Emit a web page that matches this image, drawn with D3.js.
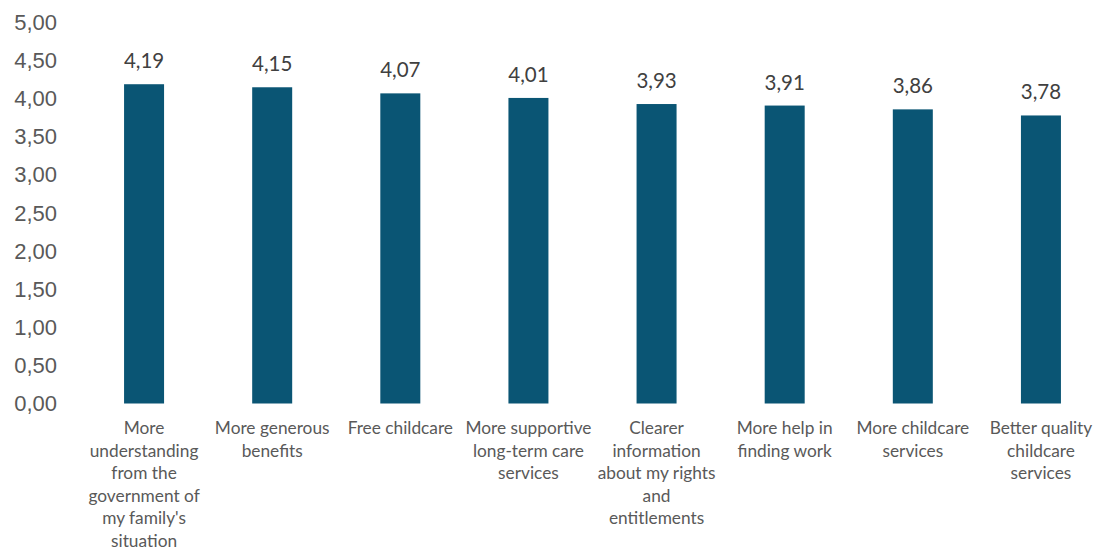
<!DOCTYPE html>
<html>
<head>
<meta charset="utf-8">
<script src="https://cdn.jsdelivr.net/npm/d3@7"></script>
<style>
  html, body { margin: 0; padding: 0; background: #ffffff; }
  svg { display: block; }
</style>
</head>
<body>
<svg id="chart" width="1098" height="550"></svg>
<script>
// ---- Data ----
const categories = [
  "More understanding from the government of my family's situation",
  "More generous benefits",
  "Free childcare",
  "More supportive long-term care services",
  "Clearer information about my rights and entitlements",
  "More help in finding work",
  "More childcare services",
  "Better quality childcare services"
];
const values = [4.19, 4.15, 4.07, 4.01, 3.93, 3.91, 3.86, 3.78];
const categoryLabelLines = [
  ["More", "understanding", "from the", "government of", "my family's", "situation"],
  ["More generous", "benefits"],
  ["Free childcare"],
  ["More supportive", "long-term care", "services"],
  ["Clearer", "information", "about my rights", "and", "entitlements"],
  ["More help in", "finding work"],
  ["More childcare", "services"],
  ["Better quality", "childcare", "services"]
];
const yTicks = [0, 0.5, 1, 1.5, 2, 2.5, 3, 3.5, 4, 4.5, 5];

// ---- Chart ----
const svg = d3.select("#chart");
const fmt = v => d3.format(".2f")(v).replace(".", ",");

const x = d3.scaleBand()
  .domain(categories)
  .range([80, 1105])
  .padding(0);

const y = d3.scaleLinear()
  .domain([0, 5])
  .range([403.5, 22.5]);

const barW = 40;
const barColor = "#0A5574";

// y axis (labels only)
const yAxis = d3.axisLeft(y)
  .tickValues(yTicks)
  .tickFormat(fmt)
  .tickSize(0)
  .tickPadding(0);

const yg = svg.append("g")
  .attr("transform", "translate(57,0)")
  .call(yAxis);
yg.select(".domain").remove();
yg.selectAll("text")
  .attr("font-family", "'Liberation Sans', Arial, sans-serif")
  .attr("font-size", 22)
  .attr("fill", "#595959");

// bars
svg.append("g").selectAll("rect")
  .data(values)
  .join("rect")
  .attr("x", (d, i) => x(categories[i]) + x.bandwidth() / 2 - barW / 2)
  .attr("width", barW)
  .attr("y", d => y(d))
  .attr("height", d => y(0) - y(d))
  .attr("fill", barColor);

// value labels
svg.append("g").selectAll("text")
  .data(values)
  .join("text")
  .attr("x", (d, i) => x(categories[i]) + x.bandwidth() / 2)
  .attr("y", d => y(d) - 16)
  .attr("text-anchor", "middle")
  .attr("font-family", "Lato, 'Open Sans', sans-serif")
  .attr("font-size", 20.5)
  .attr("fill", "#404040")
  .text(d => fmt(d));

// category labels
const xAxis = d3.axisBottom(x).tickSize(0).tickFormat("");
const xg = svg.append("g")
  .attr("transform", `translate(0,${y(0)})`)
  .call(xAxis);
xg.select(".domain").remove();
xg.selectAll(".tick").each(function(d, i) {
  const t = d3.select(this).append("text")
    .attr("text-anchor", "middle")
    .attr("font-family", "Lato, 'Open Sans', sans-serif")
    .attr("font-size", 17.3)
    .attr("fill", "#595959");
  categoryLabelLines[i].forEach((line, j) => {
    t.append("tspan")
      .attr("x", 0)
      .attr("y", 30.5 + j * 22.6)
      .text(line);
  });
});
</script>
</body>
</html>
